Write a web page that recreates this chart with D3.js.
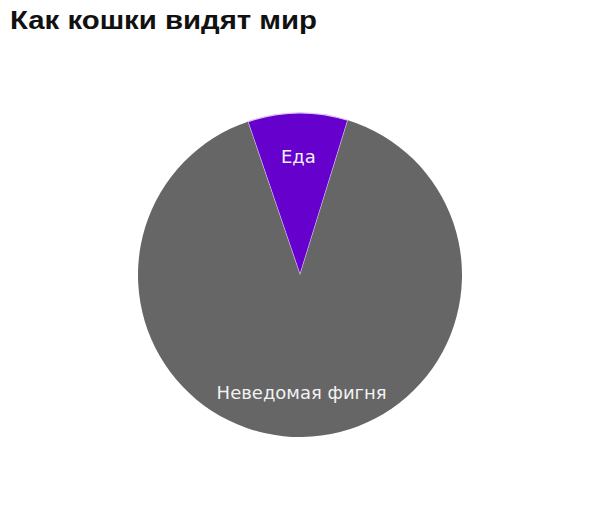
<!DOCTYPE html>
<html><head><meta charset="utf-8">
<script src="https://cdn.jsdelivr.net/npm/d3@7"></script>
<style>body{margin:0;background:#fff}</style>
</head><body>
<svg id="c" width="600" height="530"></svg>
<script>
const title = "Как кошки видят мир";
const categories = ["Еда", "Неведомая фигня"];
const values = [10, 90];
const colors = ["#6600cc", "#666666"];

const svg = d3.select("#c");
svg.append("rect").attr("width",600).attr("height",530).attr("fill","#fff");
svg.append("text").attr("x",10).attr("y",28.5)
  .attr("font-family","Liberation Sans, Arial, sans-serif")
  .attr("font-weight","bold").attr("font-size",26).attr("fill","#111")
  .attr("textLength",307).attr("lengthAdjust","spacingAndGlyphs")
  .text(title);

const cx = 300, cy = 275, r = 162;
const data = categories.map((c,i)=>({cat:c, value:values[i], color:colors[i]}));
const start = -18.8 * Math.PI/180;
const pie = d3.pie().sort(null).value(d=>d.value).startAngle(start).endAngle(start+2*Math.PI);
const arcs = pie(data);
const arc = d3.arc().innerRadius(0).outerRadius(r);
const labelArc = d3.arc().innerRadius(118).outerRadius(118);
const g = svg.append("g").attr("transform",`translate(${cx},${cy})`);
g.selectAll("path").data(arcs).join("path")
  .attr("d",arc).attr("fill",d=>d.data.color)
  .attr("stroke",d=>d.index===0?"#e0c8ff":"none").attr("stroke-width",1.2);
g.selectAll("text").data(arcs).join("text")
  .attr("transform",d=>`translate(${labelArc.centroid(d)})`)
  .attr("text-anchor","middle").attr("dy","0.36em")
  .attr("font-family","DejaVu Sans, Verdana, sans-serif").attr("font-size",18)
  .attr("fill","#f2f2f2").text(d=>d.data.cat);
</script>
</body></html>
